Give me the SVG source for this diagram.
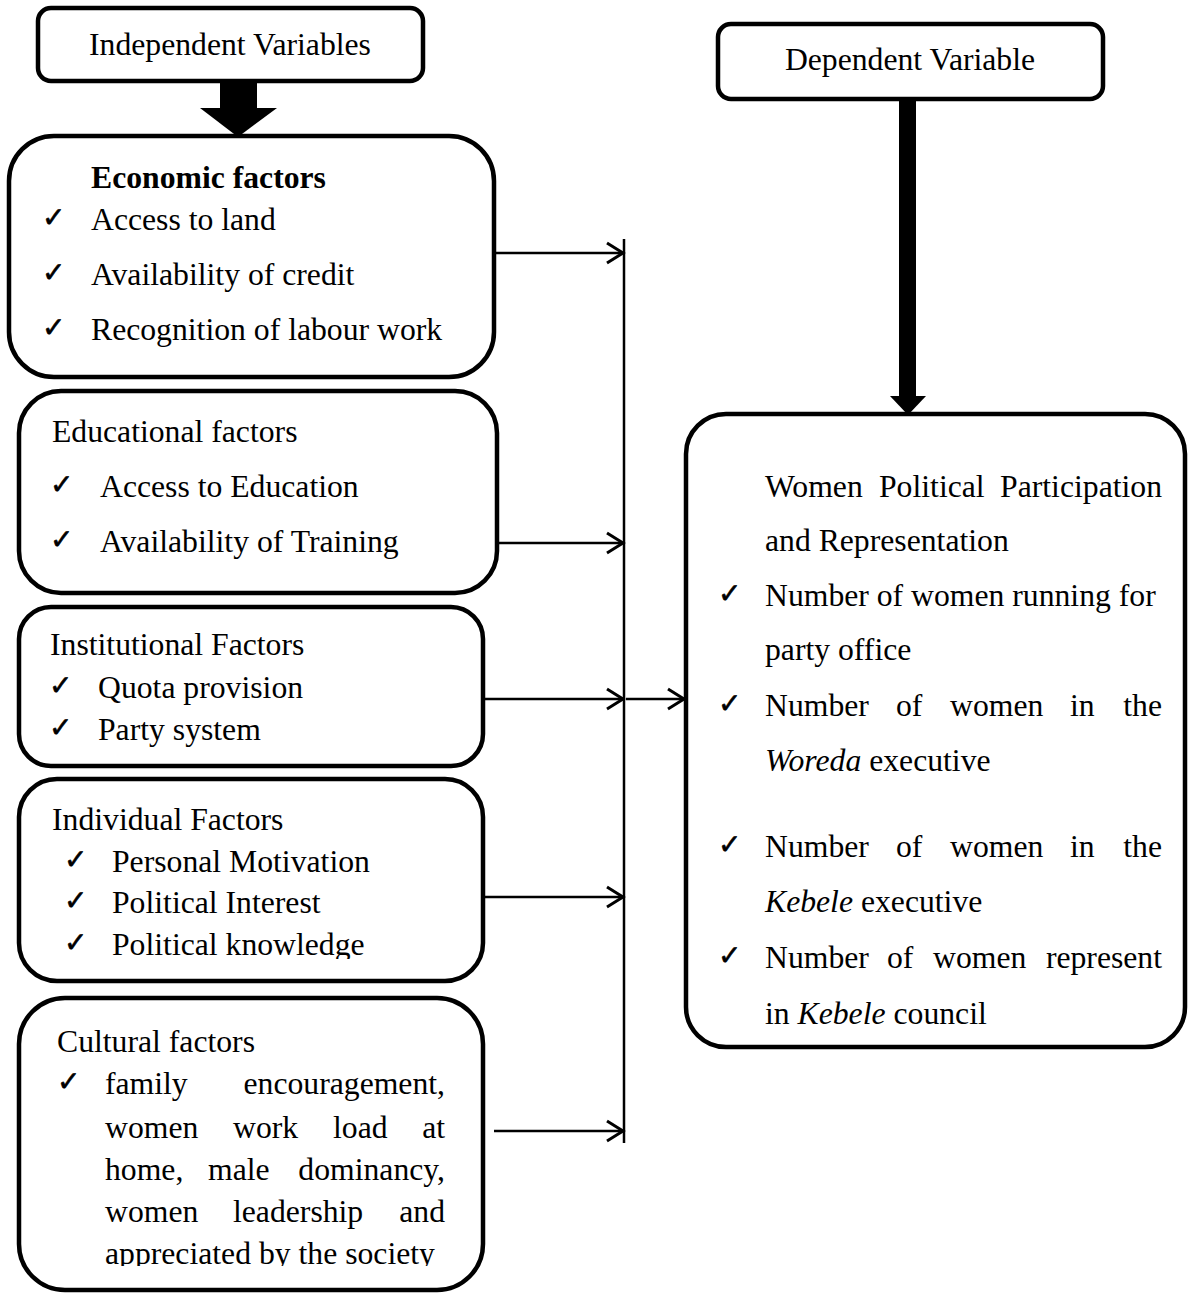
<svg xmlns="http://www.w3.org/2000/svg" width="1188" height="1293" viewBox="0 0 1188 1293">
<style>
.t{font-family:"Liberation Serif","Times New Roman",serif;font-size:31.7px;fill:#000}
.b{font-weight:bold}
.i{font-style:italic}
.ck{font-family:"DejaVu Sans",sans-serif;font-size:28px;fill:#000;stroke:#000;stroke-width:0.6}
.box{fill:#fff;stroke:#000;stroke-width:4.5}
.ln{stroke:#000;stroke-width:2.5;fill:none}
</style>
<defs>
<marker id="ah" markerUnits="userSpaceOnUse" markerWidth="22" markerHeight="26" refX="19" refY="12" orient="auto">
<path d="M3,2 L19,12 L3,22" fill="none" stroke="#000" stroke-width="3"/>
</marker>
<clipPath id="clipInd"><rect x="0" y="770" width="500" height="189"/></clipPath>
<clipPath id="clipCul"><rect x="0" y="990" width="500" height="276"/></clipPath>
</defs>
<rect width="1188" height="1293" fill="#fff"/>

<g id="connectors">
<rect x="220" y="80" width="37" height="29" fill="#000"/>
<polygon points="200,108 277,108 238,137" fill="#000"/>
<rect x="899" y="99" width="17" height="298" fill="#000"/>
<polygon points="890,396 926,396 908,415" fill="#000"/>
<line class="ln" x1="624" y1="239" x2="624" y2="1143" stroke-width="2"/>
<line class="ln" x1="496" y1="253" x2="623" y2="253" marker-end="url(#ah)"/>
<line class="ln" x1="497" y1="543" x2="623" y2="543" marker-end="url(#ah)"/>
<line class="ln" x1="484" y1="699" x2="623" y2="699" marker-end="url(#ah)"/>
<line class="ln" x1="626" y1="699" x2="684" y2="699" marker-end="url(#ah)"/>
<line class="ln" x1="484" y1="897" x2="623" y2="897" marker-end="url(#ah)"/>
<line class="ln" x1="494" y1="1131" x2="623" y2="1131" marker-end="url(#ah)"/>
</g>

<g id="independent">
<rect class="box" x="38" y="8" width="385" height="73" rx="13"/>
<text class="t" x="230" y="55" text-anchor="middle">Independent Variables</text>
</g>

<g id="dependent">
<rect class="box" x="718" y="24" width="385" height="75" rx="13"/>
<text class="t" x="910" y="70" text-anchor="middle">Dependent Variable</text>
</g>

<g id="economic">
<rect class="box" x="9" y="136" width="485" height="241" rx="45"/>
<text class="t b" x="91" y="188">Economic factors</text>
<text class="ck" x="42" y="227">✓</text>
<text class="t" x="91" y="230">Access to land</text>
<text class="ck" x="42" y="282">✓</text>
<text class="t" x="91" y="285">Availability of credit</text>
<text class="ck" x="42" y="337">✓</text>
<text class="t" x="91" y="340">Recognition of labour work</text>
</g>

<g id="educational">
<rect class="box" x="19" y="391" width="478" height="202" rx="42"/>
<text class="t" x="52" y="442">Educational factors</text>
<text class="ck" x="50" y="494">✓</text>
<text class="t" x="100" y="497">Access to Education</text>
<text class="ck" x="50" y="549">✓</text>
<text class="t" x="100" y="552">Availability of Training</text>
</g>

<g id="institutional">
<rect class="box" x="19" y="607" width="464" height="159" rx="32"/>
<text class="t" x="50" y="655">Institutional Factors</text>
<text class="ck" x="49" y="695">✓</text>
<text class="t" x="98" y="698">Quota provision</text>
<text class="ck" x="49" y="737">✓</text>
<text class="t" x="98" y="740">Party system</text>
</g>

<g id="individual">
<rect class="box" x="19" y="779" width="464" height="202" rx="38"/>
<text class="t" x="52" y="830">Individual Factors</text>
<text class="ck" x="64" y="869">✓</text>
<text class="t" x="112" y="872">Personal Motivation</text>
<text class="ck" x="64" y="910">✓</text>
<text class="t" x="112" y="913">Political Interest</text>
<g clip-path="url(#clipInd)">
<text class="ck" x="64" y="952">✓</text>
<text class="t" x="112" y="955">Political knowledge</text>
</g>
</g>

<g id="cultural">
<rect class="box" x="19" y="998" width="464" height="292" rx="46"/>
<text class="t" x="57" y="1052">Cultural factors</text>
<text class="ck" x="57" y="1091">✓</text>
<g clip-path="url(#clipCul)">
<text class="t" x="105" y="1094">family</text>
<text class="t" x="445" y="1094" text-anchor="end">encouragement,</text>
<text class="t" x="105" y="1138">women</text>
<text class="t" x="233" y="1138">work</text>
<text class="t" x="333" y="1138">load</text>
<text class="t" x="445" y="1138" text-anchor="end">at</text>
<text class="t" x="105" y="1180">home,</text>
<text class="t" x="208" y="1180">male</text>
<text class="t" x="445" y="1180" text-anchor="end">dominancy,</text>
<text class="t" x="105" y="1222">women</text>
<text class="t" x="233" y="1222">leadership</text>
<text class="t" x="445" y="1222" text-anchor="end">and</text>
<text class="t" x="105" y="1264">appreciated by the society</text>
</g>
</g>

<g id="outcome">
<rect class="box" x="686" y="414" width="499" height="633" rx="40"/>
<text class="t" x="765" y="497">Women</text>
<text class="t" x="879" y="497">Political</text>
<text class="t" x="1162" y="497" text-anchor="end">Participation</text>
<text class="t" x="765" y="551">and Representation</text>
<text class="ck" x="718" y="603">✓</text>
<text class="t" x="765" y="606">Number of women running for</text>
<text class="t" x="765" y="660">party office</text>
<text class="ck" x="718" y="713">✓</text>
<text class="t" x="765" y="716">Number</text>
<text class="t" x="896" y="716">of</text>
<text class="t" x="950" y="716">women</text>
<text class="t" x="1070" y="716">in</text>
<text class="t" x="1162" y="716" text-anchor="end">the</text>
<text class="t" x="765" y="771"><tspan class="i">Woreda</tspan> executive</text>
<text class="ck" x="718" y="854">✓</text>
<text class="t" x="765" y="857">Number</text>
<text class="t" x="896" y="857">of</text>
<text class="t" x="950" y="857">women</text>
<text class="t" x="1070" y="857">in</text>
<text class="t" x="1162" y="857" text-anchor="end">the</text>
<text class="t" x="765" y="912"><tspan class="i">Kebele</tspan> executive</text>
<text class="ck" x="718" y="965">✓</text>
<text class="t" x="765" y="968">Number</text>
<text class="t" x="887" y="968">of</text>
<text class="t" x="933" y="968">women</text>
<text class="t" x="1162" y="968" text-anchor="end">represent</text>
<text class="t" x="765" y="1024">in <tspan class="i">Kebele</tspan> council</text>
</g>
</svg>
